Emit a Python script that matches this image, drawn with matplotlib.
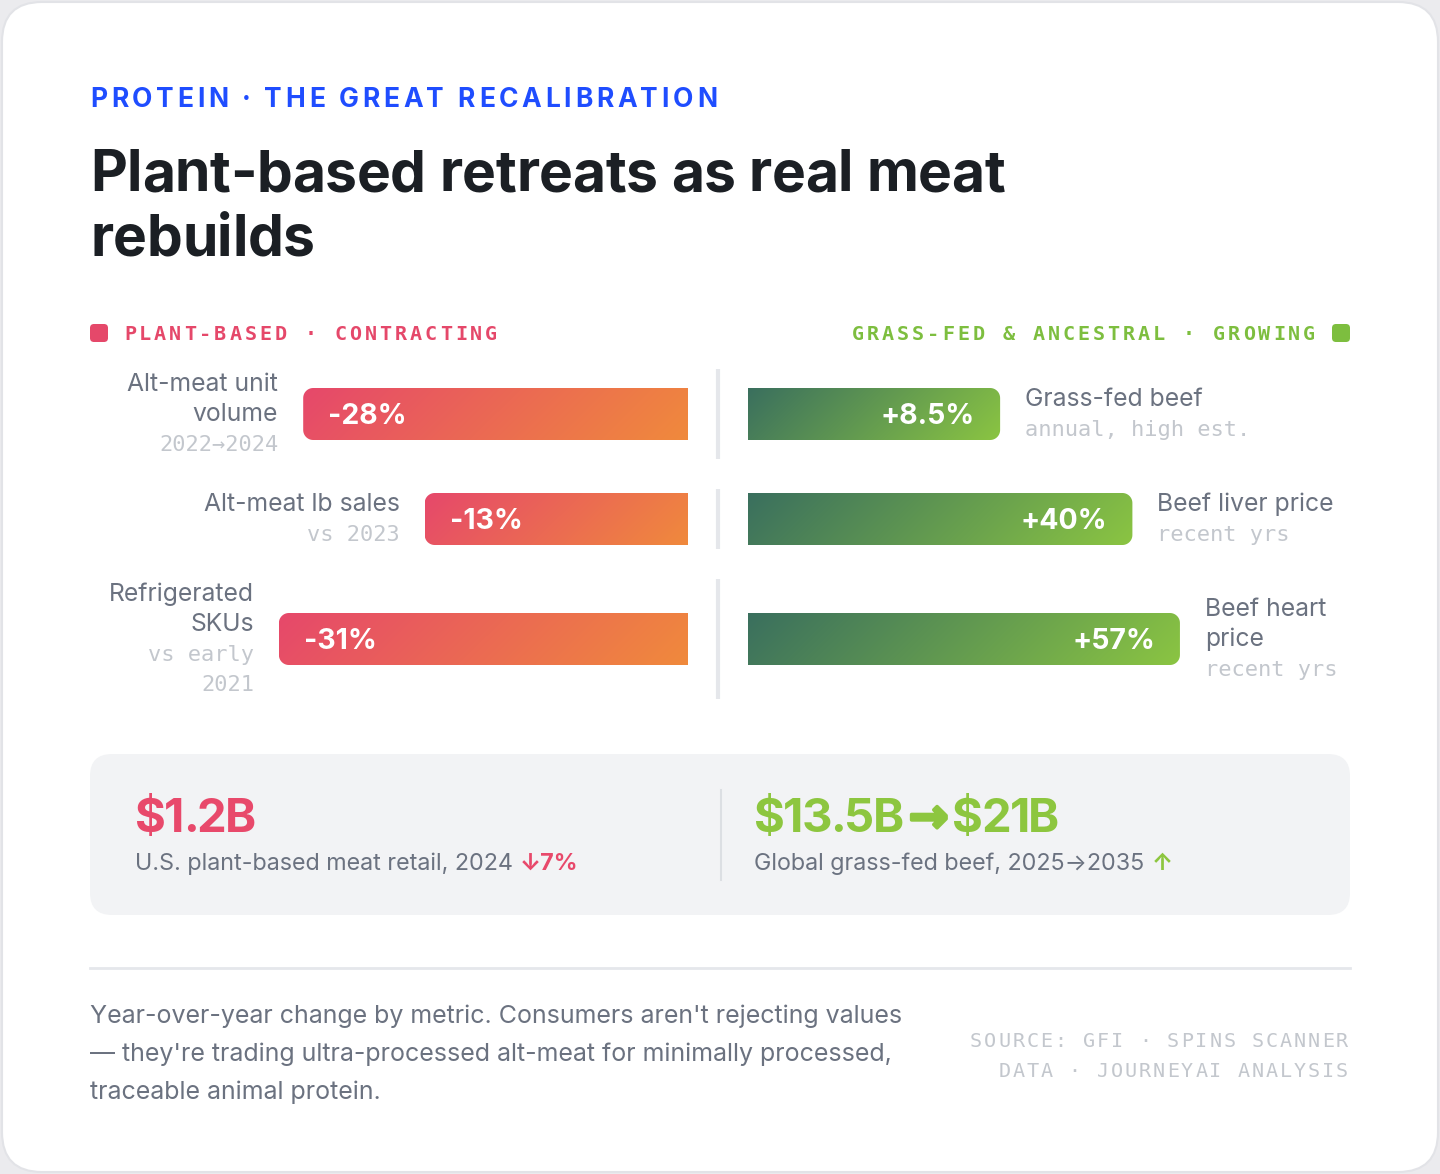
import numpy as np
import matplotlib
matplotlib.use('Agg')
import matplotlib.pyplot as plt
import matplotlib.patheffects as pe
from matplotlib.patches import FancyBboxPatch, PathPatch
from matplotlib.path import Path
from matplotlib.colors import LinearSegmentedColormap

# ---- data ----
plant_metrics = ["Alt-meat unit\nvolume", "Alt-meat lb sales", "Refrigerated\nSKUs"]
plant_notes = ["2022\u21922024", "vs 2023", "vs early\n2021"]
plant_change = [-28, -13, -31]

grass_metrics = ["Grass-fed beef", "Beef liver price", "Beef heart\nprice"]
grass_notes = ["annual, high est.", "recent yrs", "recent yrs"]
grass_change = [8.5, 40, 57]

stat_values = ["$1.2B", "$13.5B\u2192$21B"]
stat_captions = ["U.S. plant-based meat retail, 2024", "Global grass-fed beef, 2025\u21922035"]
stat_flags = ["\u21937%", "\u2191"]

kicker = "PROTEIN \u00b7 THE GREAT RECALIBRATION"
title_lines = ["Plant-based retreats as real meat", "rebuilds"]
legend_left = "PLANT-BASED \u00b7 CONTRACTING"
legend_right = "GRASS-FED & ANCESTRAL \u00b7 GROWING"
footer_lines = ["Year-over-year change by metric. Consumers aren't rejecting values",
                "\u2014 they're trading ultra-processed alt-meat for minimally processed,",
                "traceable animal protein."]
source_lines = ["SOURCE: GFI \u00b7 SPINS SCANNER", "DATA \u00b7 JOURNEYAI ANALYSIS"]

# ---- style ----
SANS = ['Inter', 'DejaVu Sans']
MONO = ['DejaVu Sans Mono']
PINK, ORANGE = '#E6486B', '#F08A3C'
GDARK, GLIGHT = '#3A6F5E', '#8BC542'
PINK_TXT, GREEN_TXT = '#E5486A', '#7DBE3F'
GRAY, LIGHT = '#6B7280', '#C3C7CD'

W, H = 1440, 1174
fig = plt.figure(figsize=(W / 100, H / 100), dpi=100)
fig.patch.set_facecolor('#EBEBEE')
ax = fig.add_axes([0, 0, 1, 1])
ax.set_xlim(0, W)
ax.set_ylim(H, 0)
ax.axis('off')
ax.set_autoscale_on(False)
R = fig.canvas.get_renderer()


def text_w(s, **kw):
    t = ax.text(0, 0, s, **kw)
    w = t.get_window_extent(R).width
    t.remove()
    return w


def tracked(x, y, s, width=None, spacing=0.0, ha='left', **kw):
    # draw text char by char with extra letter spacing (px); returns spacing, right end
    pos = [text_w('|' + s[:i + 1], **kw) - text_w(s[i], **kw) if s[i] != ' ' else 0
           for i in range(len(s))]
    natural = pos[-1] + text_w(s[-1], **kw) - pos[0]
    if width is not None:
        spacing = (width - natural) / (len(s) - 1)
    full = natural + spacing * (len(s) - 1)
    x0 = x - full if ha == 'right' else x
    for i, ch in enumerate(s):
        if ch != ' ':
            ax.text(x0 + pos[i] - pos[0] + i * spacing, y, ch, ha='left', va='baseline', **kw)
    return spacing, x0 + full


def bar_path(x0, y0, w, h, r, round_left):
    x1, y1 = x0 + w, y0 + h

    def arc(cx, cy, a0, a1):
        a = np.linspace(a0, a1, 14)
        return list(zip(cx + r * np.cos(a), cy + r * np.sin(a)))
    if round_left:
        pts = [(x1, y0), (x1, y1)] + arc(x0 + r, y1 - r, np.pi / 2, np.pi) \
            + arc(x0 + r, y0 + r, np.pi, 1.5 * np.pi)
    else:
        pts = [(x0, y0)] + arc(x1 - r, y0 + r, -np.pi / 2, 0) \
            + arc(x1 - r, y1 - r, 0, np.pi / 2) + [(x0, y1)]
    pts.append(pts[0])
    return Path(pts, closed=True)


def grad_bar(x0, y0, w, h, c0, c1, round_left):
    nx, ny = max(int(w), 2), int(h)
    xx, yy = np.meshgrid(np.arange(nx) + 0.5, np.arange(ny) + 0.5)
    L = (w + h) * np.sqrt(0.5)
    t = ((xx - w / 2) + (yy - h / 2)) * np.sqrt(0.5) / L + 0.5
    cmap = LinearSegmentedColormap.from_list('g', [c0, c1])
    im = ax.imshow(t, cmap=cmap, vmin=0, vmax=1, extent=(x0, x0 + w, y0 + h, y0),
                   origin='upper', aspect='auto', interpolation='bilinear', zorder=2)
    patch = PathPatch(bar_path(x0, y0, w, h, 10, round_left), fc='none', ec='none')
    ax.add_patch(patch)
    im.set_clip_path(patch)


# card + background
ax.add_patch(FancyBboxPatch((2, 2), W - 4, H - 4, boxstyle='round,pad=0,rounding_size=40',
                            fc='white', ec='#E2E3E7', lw=1.5, zorder=0))

# kicker + title
tracked(90, 107, kicker, width=627, family=SANS, fontsize=19, fontweight='bold', color='#1F4DFF')
sp, _ = tracked(90, 191, title_lines[0], width=915, family=SANS, fontsize=41, fontweight='bold', color='#1B1F24')
tracked(90, 256, title_lines[1], spacing=sp, family=SANS, fontsize=41, fontweight='bold', color='#1B1F24')

# legend
ax.add_patch(FancyBboxPatch((90, 324), 18, 18, boxstyle='round,pad=0,rounding_size=4', fc=PINK_TXT, ec='none'))
ax.add_patch(FancyBboxPatch((1332, 324), 18, 18, boxstyle='round,pad=0,rounding_size=4', fc=GREEN_TXT, ec='none'))
tracked(124, 340, legend_left, width=373, family=MONO, fontsize=14.5, fontweight='bold', color=PINK_TXT)
tracked(1315, 340, legend_right, width=463, ha='right', family=MONO, fontsize=14.5, fontweight='bold', color=GREEN_TXT)

# rows
LINE = 30
LABEL_FS, NOTE_FS, VALUE_FS = 17.8, 15.8, 20.5
y_top = 369
for i in range(len(plant_change)):
    l_lines = plant_metrics[i].split('\n') + plant_notes[i].split('\n')
    r_lines = grass_metrics[i].split('\n') + grass_notes[i].split('\n')
    n = max(len(l_lines), len(r_lines))
    yc = y_top + n * LINE / 2
    y_top += n * LINE + 30

    # divider
    ax.plot([718, 718], [yc - n * LINE / 2, yc + n * LINE / 2], color='#E5E7EB', lw=3,
            solid_capstyle='butt', zorder=1)

    # plant-based bar (grows leftwards)
    v = plant_change[i]
    w = 158 + 8.1 * abs(v)
    x0 = 688 - w
    grad_bar(x0, yc - 26, w, 52, PINK, ORANGE, True)
    ax.text(x0 + 25, yc + 10, f"{v:d}%", ha='left', va='baseline', family=SANS,
            fontsize=VALUE_FS, fontweight='bold', color='white', zorder=3)
    n_main = len(plant_metrics[i].split('\n'))
    top = yc - len(l_lines) * LINE / 2
    for j, ln in enumerate(l_lines):
        if j < n_main:
            ax.text(x0 - 25, top + 22 + j * LINE, ln, ha='right', va='baseline',
                    family=SANS, fontsize=LABEL_FS, color=GRAY)
        else:
            ax.text(x0 - 25, top + 22 + j * LINE, ln, ha='right', va='baseline',
                    family=MONO, fontsize=NOTE_FS, color=LIGHT)

    # grass-fed bar (grows rightwards)
    v = grass_change[i]
    w = 139 + 38.8 * np.sqrt(v)
    x1 = 748 + w
    grad_bar(748, yc - 26, w, 52, GDARK, GLIGHT, False)
    ax.text(x1 - 25, yc + 10, f"+{v:g}%", ha='right', va='baseline', family=SANS,
            fontsize=VALUE_FS, fontweight='bold', color='white', zorder=3)
    n_main = len(grass_metrics[i].split('\n'))
    top = yc - len(r_lines) * LINE / 2
    for j, ln in enumerate(r_lines):
        if j < n_main:
            ax.text(x1 + 25, top + 22 + j * LINE, ln, ha='left', va='baseline',
                    family=SANS, fontsize=LABEL_FS, color=GRAY)
        else:
            ax.text(x1 + 25, top + 22 + j * LINE, ln, ha='left', va='baseline',
                    family=MONO, fontsize=NOTE_FS, color=LIGHT)

# stats box
ax.add_patch(FancyBboxPatch((90, 754), 1260, 161, boxstyle='round,pad=0,rounding_size=22',
                            fc='#F2F3F5', ec='none', zorder=1))
ax.plot([721, 721], [790, 880], color='#DCDFE3', lw=1.5, zorder=2)
stat_x = [135, 754]
stat_c = ['#E8496B', '#8DC63F']
big = dict(fontsize=34, fontweight='bold', zorder=3)
for k in range(2):
    x = stat_x[k]
    for p, part in enumerate(stat_values[k].split('\u2192')):
        if p > 0:
            ax.text(x + 5, 832, '\u2192', ha='left', va='baseline', family='DejaVu Sans',
                    color=stat_c[k],
                    path_effects=[pe.withStroke(linewidth=2.5, foreground=stat_c[k])], **big)
            x += text_w('\u2192', family='DejaVu Sans', **big) + 9
        _, x = tracked(x, 832, part, spacing=-1.8, family=SANS, color=stat_c[k], **big)
    ax.text(stat_x[k], 870, stat_captions[k], ha='left', va='baseline', family=SANS,
            fontsize=16.8, color=GRAY, zorder=3)
    cw = text_w(stat_captions[k], family=SANS, fontsize=16.8)
    ax.text(stat_x[k] + cw + 7, 870, stat_flags[k], ha='left', va='baseline', family=SANS,
            fontsize=16.8, fontweight='bold', color=stat_c[k], zorder=3)

# footer
ax.plot([90, 1350], [968, 968], color='#E5E7EB', lw=2)
for j, ln in enumerate(footer_lines):
    ax.text(90, 1023 + j * 38, ln, ha='left', va='baseline', family=SANS, fontsize=18, color=GRAY)
sp, _ = tracked(1348, 1047, source_lines[0], width=378, ha='right', family=MONO, fontsize=14.5, color=LIGHT)
tracked(1348, 1077, source_lines[1], spacing=sp, ha='right', family=MONO, fontsize=14.5, color=LIGHT)

ax.set_xlim(0, W)
ax.set_ylim(H, 0)
fig.savefig('out.png', dpi=100, facecolor=fig.get_facecolor())
